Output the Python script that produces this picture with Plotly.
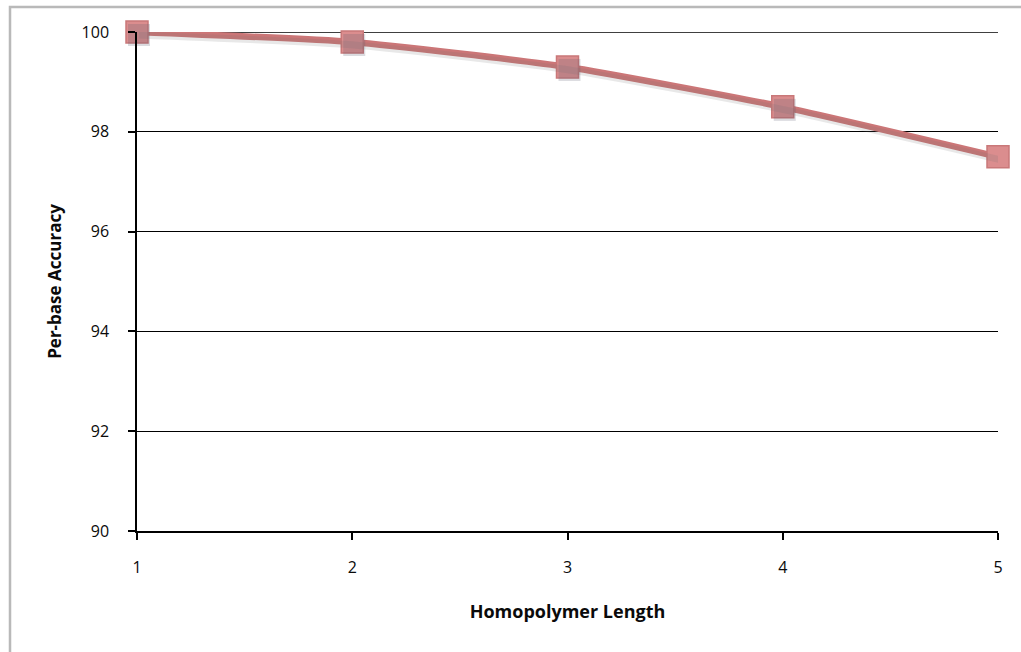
import plotly.graph_objects as go

# Per-base accuracy by homopolymer length
homopolymer_length = [1, 2, 3, 4, 5]
accuracy = [100.0, 99.8, 99.3, 98.5, 97.5]
y_ticks = [90, 92, 94, 96, 98, 100]
x_ticks = [1, 2, 3, 4, 5]

W, H = 1021, 652
L, R, T, B = 137, 23, 32, 121
pw, ph = W - L - R, H - T - B

fig = go.Figure()

# soft drop shadow beneath the series
fig.add_trace(go.Scatter(
    x=homopolymer_length, y=accuracy, mode="lines+markers",
    line=dict(color="rgba(110,110,110,0.16)", width=7, shape="spline", smoothing=0.5),
    marker=dict(symbol="square", size=22, color="rgba(90,90,110,0.22)",
                line=dict(width=0)),
    cliponaxis=False, hoverinfo="skip", showlegend=False,
    xaxis="x2", yaxis="y2",
))

fig.add_trace(go.Scatter(
    x=homopolymer_length, y=accuracy, mode="lines+markers",
    line=dict(color="#cb7677", width=6.5, shape="spline", smoothing=0.5),
    marker=dict(symbol="square", size=22, color="#db8d8e",
                line=dict(color="#c97879", width=1.5)),
    cliponaxis=False, showlegend=False,
))

font_family = "Open Sans, Liberation Sans, sans-serif"

fig.update_layout(
    width=W, height=H,
    margin=dict(l=L, r=R, t=T, b=B),
    paper_bgcolor="white", plot_bgcolor="white",
    font=dict(family=font_family, color="#0a0a0a", size=16),
    xaxis=dict(
        range=[1, 5], tickvals=x_ticks, showgrid=False, zeroline=False,
        showline=True, linecolor="black", linewidth=1.5,
        ticks="outside", ticklen=7, tickcolor="black", tickwidth=1.5,
        tickfont=dict(size=16), ticklabelstandoff=14,
        title=dict(text="<b>Homopolymer Length</b>", font=dict(size=18), standoff=28),
    ),
    yaxis=dict(
        range=[90, 100], tickvals=y_ticks, showgrid=True, gridcolor="black",
        gridwidth=1.3, zeroline=False,
        showline=True, linecolor="black", linewidth=1.5,
        ticks="outside", ticklen=7, tickcolor="black", tickwidth=1.5,
        tickfont=dict(size=16), ticklabelstandoff=16,
        title=dict(text="<b>Per-base Accuracy</b>", font=dict(size=17), standoff=16),
    ),
    # shadow layer: same scales, offset by a couple of pixels
    xaxis2=dict(range=[1 - 2 * 4 / pw, 5 - 2 * 4 / pw], overlaying="x", visible=False),
    yaxis2=dict(range=[90 + 3 * 10 / ph, 100 + 3 * 10 / ph], overlaying="y", visible=False),
)

# gridline at the top of the value range
fig.add_shape(
    type="line", xref="paper", yref="y", x0=0, x1=1, y0=y_ticks[-1], y1=y_ticks[-1],
    line=dict(color="black", width=1.3), layer="below",
)

# chart-area frame (extends past the right and bottom edges)
fig.add_shape(
    type="rect", xref="paper", yref="paper",
    x0=(10 - L) / pw, x1=(W + 20 - L) / pw,
    y0=-(B + 20) / ph, y1=1 + (T - 7) / ph,
    line=dict(color="#b9b9b9", width=2.5), fillcolor="rgba(0,0,0,0)", layer="below",
)

fig.write_html("out.html")
